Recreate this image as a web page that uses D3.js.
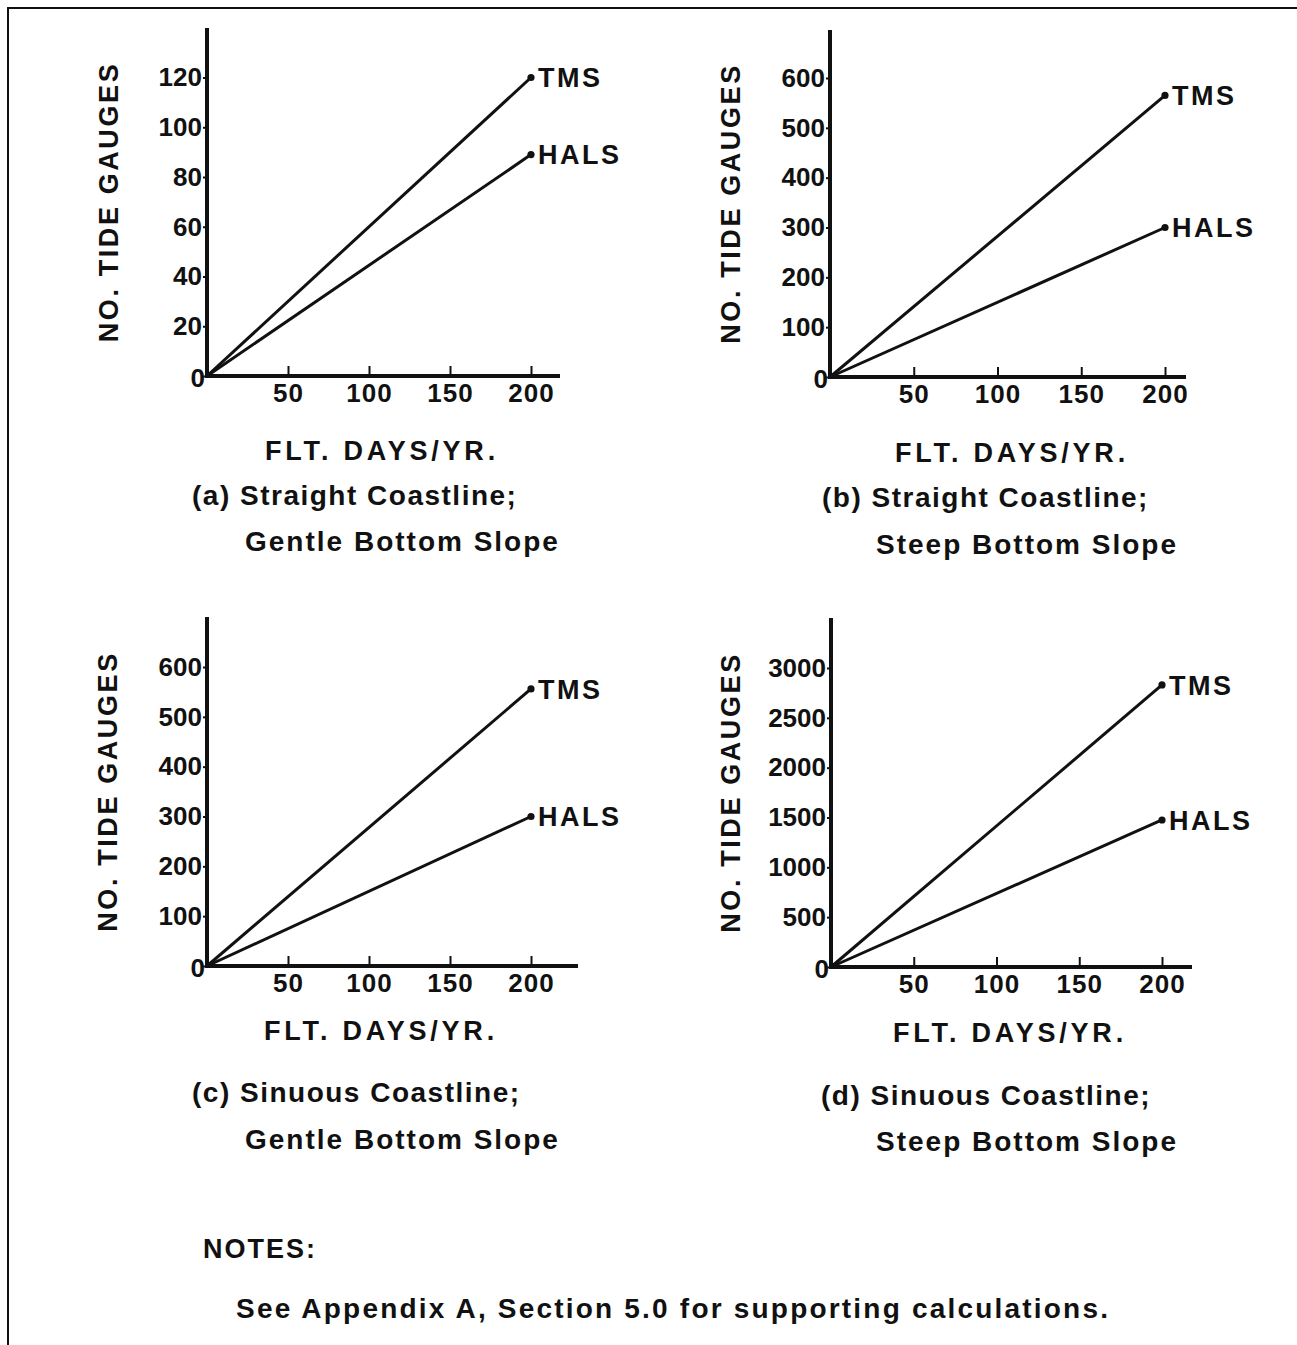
<!DOCTYPE html>
<html>
<head>
<meta charset="utf-8">
<script src="https://cdn.jsdelivr.net/npm/d3@7"></script>
<style>
  body { margin: 0; background: #fff; }
  svg { display: block; }
  text { font-family: "Liberation Sans", Arial, sans-serif; font-weight: bold; fill: #111; }
</style>
</head>
<body>
<div id="chart"></div>
<script>
// Tide gauge counts vs flight days per year, four coastline cases

var days = [0, 200];
var xTicks = [50, 100, 150, 200];
var seriesNames = ['TMS', 'HALS'];

// TMS / HALS values read at 0 and 200 flight days
var tmsA = [0, 120], halsA = [0, 89];
var tmsB = [0, 565], halsB = [0, 300];
var tmsC = [0, 556], halsC = [0, 300];
var tmsD = [0, 2830], halsD = [0, 1475];

var yTicksA = [0, 20, 40, 60, 80, 100, 120];
var yTicksB = [0, 100, 200, 300, 400, 500, 600];
var yTicksC = [0, 100, 200, 300, 400, 500, 600];
var yTicksD = [0, 500, 1000, 1500, 2000, 2500, 3000];

var captionsA = ['(a) Straight Coastline;', 'Gentle Bottom Slope'];
var captionsB = ['(b) Straight Coastline;', 'Steep Bottom Slope'];
var captionsC = ['(c) Sinuous Coastline;', 'Gentle Bottom Slope'];
var captionsD = ['(d) Sinuous Coastline;', 'Steep Bottom Slope'];

var width = 1297, height = 1345;
var FONT = '"Liberation Sans", Arial, sans-serif';

var svg = d3.select('#chart').append('svg')
    .attr('width', width)
    .attr('height', height);

// page frame (top and left edges)
svg.append('path')
    .attr('d', 'M8,1345 V8 H1297')
    .attr('fill', 'none')
    .attr('stroke', '#111')
    .attr('stroke-width', 2);

// panel frames in pixels
var panels = [
  { tms: tmsA, hals: halsA, yTicks: yTicksA, caps: captionsA,
    x0: 207, x200: 531, xEnd: 560, y0: 376, yT: 28, yMaxTick: 77.5,
    yLab: 108, xLabX: 382, xLabY: 460, capY: [505, 551], capX: [192, 245] },
  { tms: tmsB, hals: halsB, yTicks: yTicksB, caps: captionsB,
    x0: 830, x200: 1165, xEnd: 1186, y0: 377, yT: 30, yMaxTick: 78,
    yLab: 730, xLabX: 1012, xLabY: 462, capY: [507, 554], capX: [822, 876] },
  { tms: tmsC, hals: halsC, yTicks: yTicksC, caps: captionsC,
    x0: 207, x200: 531, xEnd: 578, y0: 966, yT: 617, yMaxTick: 667,
    yLab: 107, xLabX: 381, xLabY: 1040, capY: [1102, 1149], capX: [192, 245] },
  { tms: tmsD, hals: halsD, yTicks: yTicksD, caps: captionsD,
    x0: 831, x200: 1162, xEnd: 1192, y0: 967, yT: 618, yMaxTick: 668,
    yLab: 730, xLabX: 1010, xLabY: 1042, capY: [1105, 1151], capX: [821, 876] }
];

panels.forEach(function(p) {
  var g = svg.append('g');
  var maxTick = p.yTicks[p.yTicks.length - 1];

  var x = d3.scaleLinear().domain([0, 200]).range([p.x0, p.x200]);
  var y = d3.scaleLinear().domain([0, maxTick]).range([p.y0, p.yMaxTick]);

  // y axis
  var yAxis = g.append('g')
      .attr('transform', 'translate(' + p.x0 + ',0)')
      .call(d3.axisLeft(y).tickValues(p.yTicks).tickFormat(d3.format('d'))
          .tickSize(4).tickPadding(1).tickSizeOuter(0));
  yAxis.select('.domain').remove();
  yAxis.selectAll('line').attr('stroke', '#111').attr('stroke-width', 2);
  yAxis.selectAll('text').attr('font-size', 26).attr('fill', '#111')
      .attr('font-family', FONT).attr('font-weight', 'bold');
  yAxis.selectAll('.tick').filter(function(d) { return d === 0; })
      .select('text').attr('x', -2).attr('dy', '0.4em');

  g.append('line')
      .attr('x1', p.x0).attr('x2', p.x0)
      .attr('y1', p.yT).attr('y2', p.y0 + 2)
      .attr('stroke', '#111').attr('stroke-width', 4);

  // x axis
  var xAxis = g.append('g')
      .attr('transform', 'translate(0,' + p.y0 + ')')
      .call(d3.axisBottom(x).tickValues(xTicks).tickSize(0).tickPadding(8));
  xAxis.select('.domain').remove();
  xAxis.selectAll('text').attr('font-size', 26).attr('fill', '#111')
      .attr('letter-spacing', 1)
      .attr('font-family', FONT).attr('font-weight', 'bold');
  xAxis.selectAll('.tick').append('line')
      .attr('y1', 0).attr('y2', -10)
      .attr('stroke', '#111').attr('stroke-width', 2);

  g.append('line')
      .attr('x1', p.x0 - 2).attr('x2', p.xEnd)
      .attr('y1', p.y0).attr('y2', p.y0)
      .attr('stroke', '#111').attr('stroke-width', 4);

  // series lines with end dots and labels
  var line = d3.line()
      .x(function(d, i) { return x(days[i]); })
      .y(function(d) { return y(d); });

  [p.tms, p.hals].forEach(function(vals, k) {
    g.append('path')
        .datum(vals)
        .attr('fill', 'none')
        .attr('stroke', '#111')
        .attr('stroke-width', 3)
        .attr('d', line);
    var last = vals.length - 1;
    g.append('circle')
        .attr('cx', x(days[last]))
        .attr('cy', y(vals[last]))
        .attr('r', 3.6)
        .attr('fill', '#111');
    g.append('text')
        .attr('x', x(days[last]) + 7)
        .attr('y', y(vals[last]))
        .attr('dy', '0.36em')
        .attr('font-size', 27)
        .attr('letter-spacing', 2.5)
        .text(seriesNames[k]);
  });

  // axis titles
  g.append('text')
      .attr('transform', 'translate(' + (p.yLab + 10) + ',' + ((p.yT + p.y0) / 2) + ') rotate(-90)')
      .attr('text-anchor', 'middle')
      .attr('font-size', 27)
      .attr('letter-spacing', 2.6)
      .text('NO. TIDE GAUGES');

  g.append('text')
      .attr('x', p.xLabX)
      .attr('y', p.xLabY)
      .attr('text-anchor', 'middle')
      .attr('font-size', 27)
      .attr('letter-spacing', 3.8)
      .text('FLT. DAYS/YR.');

  // captions
  p.caps.forEach(function(c, i) {
    g.append('text')
        .attr('x', p.capX[i])
        .attr('y', p.capY[i])
        .attr('font-size', 28)
        .attr('letter-spacing', i === 0 ? 1.5 : 2)
        .text(c);
  });
});

// notes
svg.append('text')
    .attr('x', 203).attr('y', 1258)
    .attr('font-size', 27).attr('letter-spacing', 2)
    .text('NOTES:');
svg.append('text')
    .attr('x', 236).attr('y', 1318)
    .attr('font-size', 28).attr('letter-spacing', 2.2)
    .text('See Appendix A, Section 5.0 for supporting calculations.');
</script>
</body>
</html>
